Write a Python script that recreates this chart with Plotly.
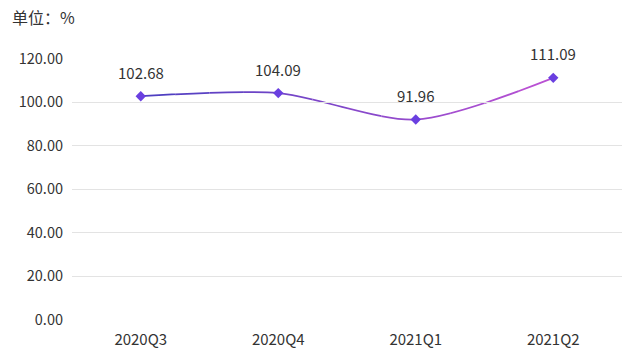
import plotly.graph_objects as go

categories = ["2020Q3", "2020Q4", "2021Q1", "2021Q2"]
values = [102.68, 104.09, 91.96, 111.09]
y_ticks = [0, 20, 40, 60, 80, 100, 120]
y_tick_labels = ["0.00", "20.00", "40.00", "60.00", "80.00", "100.00", "120.00"]
unit_label = "单位：%"

FONT = "Noto Sans CJK SC, Microsoft YaHei, sans-serif"
N = 16  # gradient slices
c0 = (60, 60, 190)
c1 = (204, 84, 214)

# page body has an 8px default margin; compensate
OFF = 8
L, R, T, B = 72 - OFF, 18 + OFF, 58 - OFF, 37 + OFF

fig = go.Figure()
xs = list(range(len(categories)))
ncat = len(categories)

layout_axes = {}
for k in range(N):
    t = k / (N - 1)
    col = "rgb({},{},{})".format(*[round(a + (b - a) * t) for a, b in zip(c0, c1)])
    ax = k + 2
    lo = -0.5 + ncat * k / N
    hi = -0.5 + ncat * (k + 1) / N
    fig.add_trace(go.Scatter(
        x=xs, y=values, mode="lines", xaxis=f"x{ax}", yaxis="y",
        line=dict(color=col, width=1.7, shape="spline", smoothing=0.8),
        hoverinfo="skip", showlegend=False,
    ))
    layout_axes[f"xaxis{ax}"] = dict(domain=[k / N, (k + 1) / N], range=[lo, hi],
                                     visible=False, anchor="y", showgrid=False,
                                     zeroline=False, fixedrange=True)

mk = N + 2
fig.add_trace(go.Scatter(
    x=xs, y=values, mode="markers", xaxis=f"x{mk}", yaxis="y",
    marker=dict(symbol="diamond", size=8, color="#6a3fe0"),
    cliponaxis=False, hoverinfo="skip", showlegend=False,
))
layout_axes[f"xaxis{mk}"] = dict(domain=[0, 1], range=[-0.5, ncat - 0.5],
                                 visible=False, anchor="y", showgrid=False,
                                 zeroline=False, fixedrange=True)

for i, v in enumerate(values):
    fig.add_annotation(x=categories[i], y=v, xref="x", yref="y", text=f"{v:.2f}",
                       showarrow=False, yshift=24,
                       font=dict(family=FONT, size=15, color="#333333"))

fig.update_layout(
    width=640, height=357,
    margin=dict(l=L, r=R, t=T, b=B),
    paper_bgcolor="white", plot_bgcolor="rgba(0,0,0,0)",
    showlegend=False,
    title=dict(text=unit_label, xref="container", yref="container",
               x=4 / 640, y=1 - 10 / 357, xanchor="left", yanchor="middle",
               font=dict(family=FONT, size=16, color="#333333")),
    xaxis=dict(domain=[0, 1], range=[-0.5, ncat - 0.5], type="category",
               categoryarray=categories, showgrid=False, zeroline=False,
               showline=False, ticks="", fixedrange=True, ticklabelstandoff=9,
               tickfont=dict(family=FONT, size=15, color="#333333")),
    yaxis=dict(range=[0, 120.2], tickvals=y_ticks, ticktext=y_tick_labels,
               showgrid=True, gridcolor="#e3e3e3", gridwidth=1,
               zeroline=False, showline=False, ticks="", fixedrange=True,
               tickfont=dict(family=FONT, size=14.5, color="#333333"),
               ticklabelstandoff=8),
    **layout_axes,
)

fig.write_html("out.html", config={"displayModeBar": False})
